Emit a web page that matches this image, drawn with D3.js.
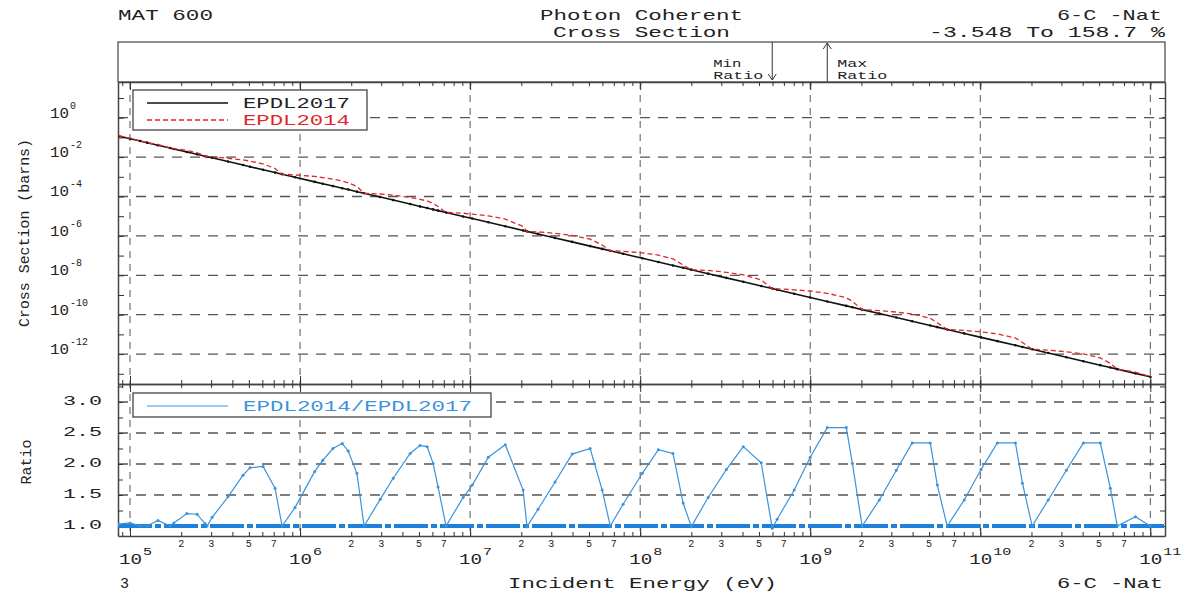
<!DOCTYPE html>
<html><head><meta charset="utf-8">
<script src="https://cdn.jsdelivr.net/npm/d3@7"></script>
<style>body{margin:0;background:#fff}</style>
</head><body><svg id="c" width="1198" height="598"></svg>
<script>
// ---------------- data ----------------
const energy = [8.5e4,1.0e5,1.15e5,1.26e5,1.46e5,1.72e5,1.81e5,2.16e5,2.48e5,2.76e5,2.84e5,3.04e5,3.77e5,4.62e5,5.08e5,6.06e5,7.13e5,7.84e5,9.35e5,1.22e6,1.36e6,1.56e6,1.77e6,1.92e6,2.16e6,2.38e6,2.96e6,3.53e6,4.44e6,5.08e6,5.59e6,6.06e6,6.48e6,7.22e6,9.10e6,1.03e7,1.28e7,1.61e7,2.05e7,2.16e7,2.51e7,3.16e7,3.98e7,5.08e7,5.98e7,6.67e7,7.94e7,1.03e8,1.28e8,1.56e8,1.79e8,2.0e8,2.51e8,3.21e8,4.04e8,5.15e8,5.98e8,6.39e8,8.05e8,1.0e9,1.26e9,1.63e9,1.77e9,2.02e9,2.55e9,3.21e9,3.98e9,5.08e9,5.59e9,6.39e9,8.05e9,1.01e10,1.26e10,1.61e10,1.77e10,2.02e10,2.51e10,3.21e10,4.04e10,5.08e10,5.82e10,6.39e10,8.17e10,1.0e11];
const xs2017 = [1.20e-1,8.61e-2,6.55e-2,5.41e-2,4.01e-2,2.89e-2,2.59e-2,1.82e-2,1.38e-2,1.11e-2,1.05e-2,9.20e-3,5.94e-3,3.94e-3,3.25e-3,2.29e-3,1.64e-3,1.36e-3,9.51e-4,5.53e-4,4.45e-4,3.38e-4,2.64e-4,2.25e-4,1.76e-4,1.45e-4,9.35e-5,6.58e-5,4.13e-5,3.14e-5,2.60e-5,2.21e-5,1.92e-5,1.55e-5,9.72e-6,7.60e-6,4.91e-6,3.09e-6,1.89e-6,1.70e-6,1.26e-6,7.89e-7,4.97e-7,3.03e-7,2.19e-7,1.76e-7,1.23e-7,7.35e-8,4.74e-8,3.16e-8,2.40e-8,1.93e-8,1.21e-8,7.41e-9,4.67e-9,2.85e-9,2.12e-9,1.85e-9,1.16e-9,7.50e-10,4.71e-10,2.81e-10,2.38e-10,1.81e-10,1.14e-10,7.16e-11,4.63e-11,2.83e-11,2.34e-11,1.78e-11,1.12e-11,7.05e-12,4.55e-12,2.79e-12,2.30e-12,1.75e-12,1.13e-12,6.92e-13,4.36e-13,2.74e-13,2.08e-13,1.72e-13,1.05e-13,7.00e-14];
const xs2014 = [1.23e-1,9.04e-2,6.55e-2,5.41e-2,4.37e-2,2.89e-2,2.72e-2,2.18e-2,1.65e-2,1.16e-2,1.05e-2,1.05e-2,8.73e-3,7.17e-3,6.31e-3,4.48e-3,2.65e-3,1.36e-3,1.24e-3,1.04e-3,9.17e-4,7.61e-4,6.15e-4,4.97e-4,3.26e-4,1.45e-4,1.34e-4,1.16e-4,8.96e-5,7.22e-5,5.93e-5,4.44e-5,3.13e-5,1.55e-5,1.42e-5,1.26e-5,1.04e-5,7.14e-6,2.99e-6,1.68e-6,1.60e-6,1.35e-6,1.07e-6,6.82e-7,3.46e-7,1.76e-7,1.66e-7,1.36e-7,1.06e-7,6.86e-8,3.29e-8,1.91e-8,1.77e-8,1.42e-8,1.06e-8,5.76e-9,2.05e-9,2.05e-9,1.83e-9,1.58e-9,1.22e-9,7.27e-10,4.78e-10,1.81e-10,1.62e-10,1.36e-10,1.08e-10,6.62e-11,3.88e-11,1.78e-11,1.59e-11,1.35e-11,1.06e-11,6.53e-12,3.89e-12,1.75e-12,1.60e-12,1.31e-12,1.02e-12,6.41e-13,3.35e-13,1.72e-13,1.21e-13,7.00e-14];
const ratio = [1.03,1.05,1.0,1.0,1.09,1.0,1.05,1.2,1.19,1.04,1.0,1.14,1.47,1.82,1.94,1.96,1.61,1.0,1.30,1.88,2.06,2.25,2.33,2.21,1.85,1.0,1.43,1.77,2.17,2.30,2.28,2.01,1.63,1.0,1.46,1.66,2.11,2.31,1.58,0.99,1.27,1.71,2.16,2.25,1.58,1.0,1.35,1.85,2.23,2.17,1.37,0.99,1.46,1.91,2.28,2.02,0.965,1.11,1.58,2.11,2.587,2.587,2.01,1.0,1.42,1.90,2.34,2.34,1.66,1.0,1.42,1.91,2.34,2.34,1.69,1.0,1.42,1.90,2.34,2.34,1.61,1.0,1.15,1.0];

const seriesNames = ["EPDL2017","EPDL2014"];
const ratioName = "EPDL2014/EPDL2017";
const decadeExps = [5,6,7,8,9,10,11];
const minorLabelMult = [2,3,5,7];
const mainYExps = [0,-2,-4,-6,-8,-10,-12];
const ratioTickLabels = [1.0,1.5,2.0,2.5,3.0];
const headerLeft = "MAT 600";
const headerCenter = ["Photon Coherent","Cross Section"];
const headerRight = ["6-C -Nat","-3.548 To 158.7 %"];
const xTitle = "Incident Energy (eV)";
const yTitleMain = "Cross Section (barns)";
const yTitleRatio = "Ratio";
const footLeft = "3";
const footRight = "6-C -Nat";

// ---------------- layout ----------------
const svg = d3.select("#c");
const L=118,R=1165,HT=42,MT=82,MB=384,RB=536;
const FONT = "'Liberation Mono','DejaVu Sans Mono',monospace";
const x = d3.scaleLog().domain([8.5e4,1.22e11]).range([L,R]);
const y = d3.scaleLog().domain([3.03e-14,64.9]).range([MB,MT]);
const yr = d3.scaleLinear().domain([0.839,3.29]).range([RB,MB]);
const GRID="#555", FRAME="#444", RED="#e0262a", BLUE="#3a93dc", BLUE2="#1c80dc";

const defs = svg.append("defs");
defs.append("clipPath").attr("id","cm").append("rect").attr("x",L).attr("y",MT).attr("width",R-L).attr("height",MB-MT);
defs.append("clipPath").attr("id","cr").append("rect").attr("x",L).attr("y",MB).attr("width",R-L).attr("height",RB-MB);

function txt(s,xp,yp,size,opts={}){
  const t = svg.append("text").attr("x",xp).attr("y",yp).attr("font-family",FONT)
    .attr("font-size",size).attr("fill",opts.fill||"#222").text(s);
  if(opts.len){t.attr("textLength",opts.len).attr("lengthAdjust","spacingAndGlyphs");}
  if(opts.anchor) t.attr("text-anchor",opts.anchor);
  return t;
}

// ---------------- header ----------------
txt(headerLeft,118,20,15,{len:95});
txt(headerCenter[0],540,20,15,{len:203});
txt(headerCenter[1],553,37,15,{len:177});
txt(headerRight[0],1057,20,15,{len:105});
txt(headerRight[1],929,37,15,{len:236});
svg.append("rect").attr("x",L).attr("y",HT).attr("width",R-L).attr("height",MT-HT)
  .attr("fill","none").attr("stroke",FRAME).attr("stroke-width",1.2);

// min / max ratio markers
const iMin = d3.minIndex(ratio), iMax = d3.maxIndex(ratio);
const xMin = x(energy[iMin]), xMax = x(energy[iMax]);
svg.append("line").attr("x1",xMin).attr("x2",xMin).attr("y1",HT).attr("y2",MT-2).attr("stroke","#333").attr("stroke-width",1);
svg.append("path").attr("d",`M${xMin-4},${MT-8}L${xMin},${MT-2}L${xMin+4},${MT-8}`).attr("fill","none").attr("stroke","#333");
svg.append("line").attr("x1",xMax).attr("x2",xMax).attr("y1",HT+1).attr("y2",MT).attr("stroke","#333").attr("stroke-width",1);
svg.append("path").attr("d",`M${xMax-4},${HT+7}L${xMax},${HT+1}L${xMax+4},${HT+7}`).attr("fill","none").attr("stroke","#333");
txt("Min",xMin-59,67,11,{len:28});
txt("Ratio",xMin-59,79,11,{len:50});
txt("Max",xMax+10,67,11,{len:30});
txt("Ratio",xMax+10,79,11,{len:50});

// ---------------- grids ----------------
const decades = decadeExps.map(e=>Math.pow(10,e));
svg.append("g").selectAll("line").data(decades).join("line")
  .attr("x1",d=>x(d)).attr("x2",d=>x(d)).attr("y1",MT).attr("y2",RB)
  .attr("stroke",GRID).attr("stroke-width",1).attr("stroke-dasharray","7,6");
svg.append("g").selectAll("line").data(mainYExps.map(e=>Math.pow(10,e))).join("line")
  .attr("x1",L).attr("x2",R).attr("y1",d=>y(d)).attr("y2",d=>y(d))
  .attr("stroke",GRID).attr("stroke-width",1.3).attr("stroke-dasharray","10,8");
svg.append("g").selectAll("line").data(ratioTickLabels.filter(v=>v>1)).join("line")
  .attr("x1",L).attr("x2",R).attr("y1",d=>yr(d)).attr("y2",d=>yr(d))
  .attr("stroke",GRID).attr("stroke-width",1.3).attr("stroke-dasharray","10,8");

// ---------------- axes (ticks) ----------------
const minorX = [];
for(let e=4;e<=11;e++) for(let m=1;m<=9;m++){const v=m*Math.pow(10,e); if(v>=8.5e4 && v<=1.22e11) minorX.push(v);}
function xAxis(yy, gen, size){
  svg.append("g").attr("transform",`translate(0,${yy})`)
    .call(gen(x).tickValues(minorX).tickSize(size).tickSizeOuter(0).tickFormat(""))
    .call(g=>{g.select(".domain").attr("stroke",FRAME).attr("stroke-width",1.5);g.selectAll(".tick line").attr("stroke","#333");});
  svg.append("g").attr("transform",`translate(0,${yy})`)
    .call(gen(x).tickValues(decades).tickSize(size*2).tickSizeOuter(0).tickFormat(""))
    .call(g=>{g.select(".domain").remove();g.selectAll(".tick line").attr("stroke","#333");});
}
xAxis(MT, d3.axisBottom, 4);
xAxis(MB, d3.axisTop, 4);
xAxis(MB, d3.axisBottom, 4);
xAxis(RB, d3.axisTop, 4);

const mainDec = d3.range(-13,2).map(e=>Math.pow(10,e));
function yAxis(xx, gen, scale, vals, size){
  svg.append("g").attr("transform",`translate(${xx},0)`)
    .call(gen(scale).tickValues(vals).tickSize(size).tickSizeOuter(0).tickFormat(""))
    .call(g=>{g.select(".domain").attr("stroke",FRAME).attr("stroke-width",1.5);g.selectAll(".tick line").attr("stroke","#333");});
}
yAxis(L, d3.axisRight, y, mainDec, 6);
yAxis(R, d3.axisLeft, y, mainDec, 6);
const rVals = d3.range(1.0,3.26,0.25);
yAxis(L, d3.axisRight, yr, rVals, 5);
yAxis(R, d3.axisLeft, yr, rVals, 5);

// ---------------- tick labels ----------------
mainYExps.forEach(e=>{
  const yy = y(Math.pow(10,e));
  const t = svg.append("text").attr("font-family",FONT).attr("fill","#222");
  t.append("tspan").attr("x",50).attr("y",yy).attr("font-size",14).attr("textLength",19).attr("lengthAdjust","spacingAndGlyphs").text("10");
  const s = e<0 ? "-"+(-e) : String(e);
  t.append("tspan").attr("x",70).attr("y",yy-9).attr("font-size",10).text(s);
});
ratioTickLabels.forEach(v=>{
  txt(v.toFixed(1),63,yr(v)+3,12,{len:39});
});
decadeExps.forEach(e=>{
  const xx = x(Math.pow(10,e));
  const t = svg.append("text").attr("font-family",FONT).attr("fill","#222");
  t.append("tspan").attr("x",xx-11).attr("y",564).attr("font-size",14).attr("textLength",23).attr("lengthAdjust","spacingAndGlyphs").text("10");
  const s = String(e);
  t.append("tspan").attr("x",xx+13).attr("y",555).attr("font-size",11).attr("textLength",s.length*9).attr("lengthAdjust","spacingAndGlyphs").text(s);
});
decadeExps.slice(0,-1).forEach(e=>{
  minorLabelMult.forEach(m=>{
    txt(String(m), x(m*Math.pow(10,e)), 547, 10, {anchor:"middle"});
  });
});

// titles
txt(xTitle,508,588,15,{len:269});
txt(footLeft,120,588,15);
txt(footRight,1057,588,15,{len:106});
svg.append("text").attr("transform","translate(29,233) rotate(-90)").attr("text-anchor","middle")
  .attr("font-family",FONT).attr("font-size",15).attr("fill","#222").attr("textLength",188).attr("lengthAdjust","spacingAndGlyphs").text(yTitleMain);
svg.append("text").attr("transform","translate(31,462) rotate(-90)").attr("text-anchor","middle")
  .attr("font-family",FONT).attr("font-size",15).attr("fill","#222").attr("textLength",45).attr("lengthAdjust","spacingAndGlyphs").text(yTitleRatio);

// ---------------- main curves ----------------
const pts2017 = energy.map((e,i)=>[e,xs2017[i]]);
const pts2014 = energy.map((e,i)=>[e,xs2014[i]]);
const lineM = d3.line().x(d=>x(d[0])).y(d=>y(d[1]));
const gm = svg.append("g").attr("clip-path","url(#cm)");
gm.append("path").attr("d",lineM(pts2017)).attr("fill","none").attr("stroke","#111").attr("stroke-width",1.6);
gm.selectAll("circle.b").data(pts2017).join("circle").attr("class","b")
  .attr("cx",d=>x(d[0])).attr("cy",d=>y(d[1])).attr("r",1.3).attr("fill","#111");
gm.append("path").attr("d",lineM(pts2014)).attr("fill","none").attr("stroke",RED).attr("stroke-width",1.3).attr("stroke-dasharray","5,3");

// main legend
svg.append("rect").attr("x",133).attr("y",90).attr("width",234).attr("height",40)
  .attr("fill","#fff").attr("stroke",FRAME).attr("stroke-width",1.3);
svg.append("line").attr("x1",147).attr("x2",228).attr("y1",103).attr("y2",103).attr("stroke","#111").attr("stroke-width",1.6);
svg.append("line").attr("x1",147).attr("x2",228).attr("y1",120).attr("y2",120).attr("stroke",RED).attr("stroke-width",1.3).attr("stroke-dasharray","5,3");
txt(seriesNames[0],243,108,15,{len:107});
txt(seriesNames[1],243,125,15,{len:107,fill:RED});

// ---------------- ratio panel ----------------
const gr = svg.append("g").attr("clip-path","url(#cr)");
gr.append("line").attr("x1",L).attr("x2",R).attr("y1",yr(1)).attr("y2",yr(1))
  .attr("stroke",BLUE2).attr("stroke-width",4).attr("stroke-dasharray","34,3,6,3");
const ptsR = energy.map((e,i)=>[e,ratio[i]]);
const lineR = d3.line().x(d=>x(d[0])).y(d=>yr(d[1]));
gr.append("path").attr("d",lineR(ptsR)).attr("fill","none").attr("stroke",BLUE).attr("stroke-width",1.2);
gr.selectAll("circle").data(ptsR).join("circle")
  .attr("cx",d=>x(d[0])).attr("cy",d=>yr(d[1])).attr("r",1.5).attr("fill",BLUE);

svg.append("rect").attr("x",133).attr("y",393).attr("width",358).attr("height",24)
  .attr("fill","#fff").attr("stroke",FRAME).attr("stroke-width",1.3);
svg.append("line").attr("x1",147).attr("x2",228).attr("y1",406).attr("y2",406).attr("stroke",BLUE).attr("stroke-width",1.2);
txt(ratioName,243,411,15,{len:229,fill:BLUE});
</script>
</body></html>
